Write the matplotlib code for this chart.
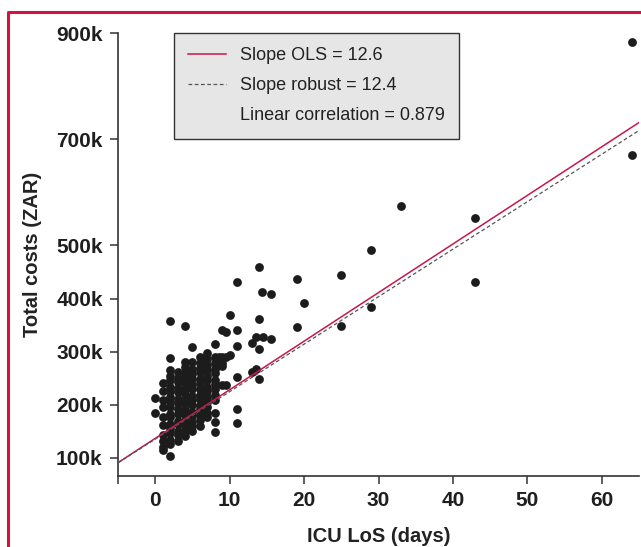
import matplotlib.pyplot as plt
from matplotlib.lines import Line2D
import numpy as np

plt.rcParams['font.family'] = ['Liberation Sans', 'DejaVu Sans']

# ICU length of stay (days) and total costs (thousand ZAR), read column by column
col_days = [0, 1, 2, 3, 4, 5, 6, 7, 8, 8.6, 9, 9.5, 10, 11, 13, 13.5, 13.6,
            14, 14.3, 14.5, 15.5, 19, 20, 25, 29, 33, 43, 64]
col_costs = [
    [213, 184],
    [209, 177, 121, 115, 240, 226, 195, 161, 142, 131],
    [358, 287, 266, 254, 246, 233, 226, 214, 205, 196, 183, 176, 164, 156, 146, 134, 126, 104],
    [262, 251, 243, 231, 223, 211, 203, 191, 183, 170, 163, 151, 143, 131],
    [348, 281, 271, 259, 250, 241, 229, 221, 209, 201, 189, 181, 169, 160, 150, 140],
    [309, 281, 268, 258, 249, 237, 229, 217, 208, 199, 187, 178, 168, 159, 151],
    [289, 279, 270, 261, 249, 241, 230, 219, 211, 199, 191, 180, 171, 160],
    [297, 286, 274, 266, 254, 246, 234, 226, 214, 205, 196, 184, 176],
    [314, 289, 278, 267, 259, 247, 238, 229, 218, 209, 184, 168, 149],
    [289],
    [340, 289, 278, 273, 237],
    [337, 290, 237],
    [369, 294],
    [431, 341, 311, 252, 192, 166],
    [316, 262],
    [267],
    [328],
    [459, 362, 305, 248],
    [413],
    [328],
    [409, 324],
    [437, 346],
    [391],
    [445, 349],
    [492, 384],
    [575],
    [551, 431],
    [884, 670],
]

# fitted lines (intercept in k ZAR, slope in k ZAR per day)
ols_fit = (136.4, 9.16)
robust_fit = (135.0, 8.95)
legend_labels = ['Slope OLS = 12.6', 'Slope robust = 12.4', 'Linear correlation = 0.879']

x = []
y = []
for d, cs in zip(col_days, col_costs):
    for c in cs:
        x.append(d)
        y.append(c * 1000)

fig = plt.figure(figsize=(6.41, 5.47), dpi=100)
ax = fig.add_axes([118 / 641, 71 / 547, 521 / 641, 443 / 547])

ax.scatter(x, y, s=40, color='#1c1c1c', linewidths=0, zorder=3)

xs = np.array([-5, 65])
l1, = ax.plot(xs, (ols_fit[0] + ols_fit[1] * xs) * 1000, color='#c8174a', lw=1.1, zorder=4)
l2, = ax.plot(xs, (robust_fit[0] + robust_fit[1] * xs) * 1000, color='#555555', lw=0.9,
              ls=(0, (3, 2)), zorder=4)
l3 = Line2D([], [], color='none')

ax.set_xlim(-5, 65)
ax.set_ylim(65500, 900500)

ax.set_xticks([-5, 0, 10, 20, 30, 40, 50, 60])
ax.set_xticklabels(['', '0', '10', '20', '30', '40', '50', '60'])
yt = [100, 200, 300, 400, 500, 700, 900]
ax.set_yticks([v * 1000 for v in yt])
ax.set_yticklabels(['%dk' % v for v in yt])

for s in ['top', 'right']:
    ax.spines[s].set_visible(False)
for s in ['left', 'bottom']:
    ax.spines[s].set_color('#333333')
    ax.spines[s].set_linewidth(1.2)
ax.tick_params(direction='out', length=6, width=1.1, color='#333333',
               labelsize=15, labelcolor='#1e1e1e', pad=5)
for lab in ax.get_xticklabels() + ax.get_yticklabels():
    lab.set_fontweight('bold')

ax.set_xlabel('ICU LoS (days)', fontsize=14.5, fontweight='bold', color='#222222', labelpad=12)
ax.set_ylabel('Total costs (ZAR)', fontsize=14.5, fontweight='bold', color='#222222', labelpad=10)

leg = ax.legend([l1, l2, l3], legend_labels, loc='upper left', bbox_to_anchor=(0.1075, 1.0),
                borderaxespad=0, fontsize=13, frameon=True, fancybox=False,
                handlelength=2.1, handletextpad=0.75, labelspacing=0.72, borderpad=0.8)
fr = leg.get_frame()
fr.set_facecolor('#e6e6e6')
fr.set_edgecolor('#333333')
fr.set_linewidth(1.0)
fr.set_alpha(1)
for t in leg.get_texts():
    t.set_color('#222222')

# red frame around the figure
fx = 8.3 / 641
fy = 1 - 11.7 / 547
fig.add_artist(Line2D([fx, fx, 1.01], [-0.01, fy, fy], transform=fig.transFigure,
                      color='#d0143f', lw=2.2))

plt.savefig('out.png', dpi=100)
